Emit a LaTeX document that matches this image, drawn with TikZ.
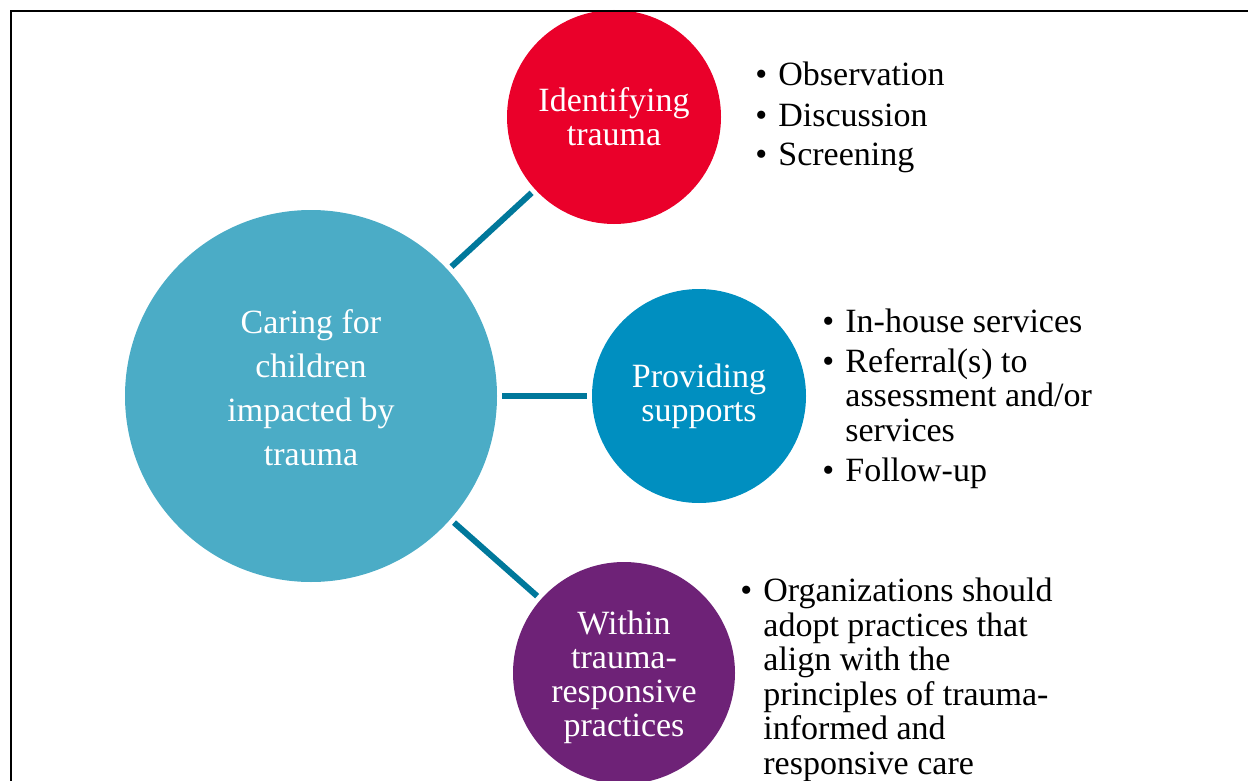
\documentclass[tikz,border=0pt]{standalone}
\usepackage{fontspec}
\setmainfont{Liberation Serif}
\usepackage{tikz}
\usetikzlibrary{shapes}

\definecolor{hubteal}{HTML}{4BACC6}
\definecolor{identred}{HTML}{EA002A}
\definecolor{supportblue}{HTML}{008FC0}
\definecolor{practicepurple}{HTML}{6E2277}
\definecolor{linkteal}{HTML}{00789B}

\newcommand{\bitem}{\makebox[11.5pt][l]{\textbullet}}
\newcommand{\bcont}{\hspace*{11.5pt}}

\begin{document}
\begin{tikzpicture}[x=0.5pt, y=-0.5pt,
  bubble/.style={circle, outer sep=0pt, inner sep=0pt, text=white, align=center,
    font=\fontsize{17}{17}\selectfont},
  bubbletext/.style={inner sep=0pt, text=white, align=center},
  link/.style={draw=linkteal, line width=3pt, shorten <=2.5pt, shorten >=2.5pt},
  bullets/.style={anchor=base west, align=left, inner sep=0pt,
    font=\fontsize{17}{17.25}\selectfont}]
  \useasboundingbox (0,0) rectangle (1248,781);

  \node[bubble, fill=hubteal, minimum size=186pt] (care) at (311,396) {};
  \node[bubbletext, font=\fontsize{17}{22}\selectfont] (caretext) at (311,388)
    {Caring for\\children\\impacted by\\trauma};
  \node[bubble, fill=identred, minimum size=107pt] (ident) at (614,117) {Identifying\\trauma};
  \node[bubble, fill=supportblue, minimum size=107pt] (support) at (699,396) {Providing\\supports};
  \node[bubble, fill=practicepurple, minimum size=111pt] (practice) at (624,673) {};
  \node[bubbletext, font=\fontsize{17}{17}\selectfont] (practicetext) at (624,677)
    {Within\\trauma-\\responsive\\practices};

  \draw[link] (care) -- (ident);
  \draw[link] (care) -- (support);
  \draw[link] (care) -- (practice);

  \node[bullets] (identlist) at (755,166)
    {\bitem Observation\\[2.75pt] \bitem Discussion\\[2.75pt] \bitem Screening};
  \node[bullets] (supportlist) at (822,481)
    {\bitem In-house services\\[2.75pt] \bitem Referral(s) to\\ \bcont assessment and/or\\ \bcont services\\[2.75pt] \bitem Follow-up};
  \node[bullets] (practicelist) at (740,774)
    {\bitem Organizations should\\ \bcont adopt practices that\\ \bcont align with the\\ \bcont principles of trauma-\\ \bcont informed and\\ \bcont responsive care};

  \draw[line width=1pt] (11,790) -- (11,11) -- (1250,11);
\end{tikzpicture}
\end{document}
